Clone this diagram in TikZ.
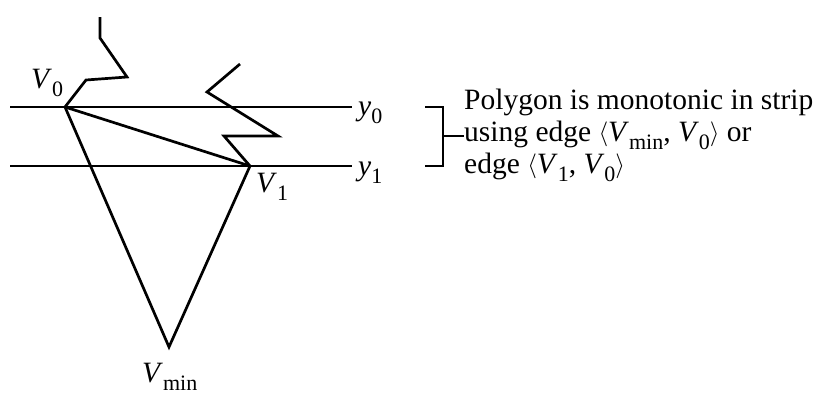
\documentclass[tikz,border=0pt]{standalone}
\usepackage{fontspec}
\setmainfont{Liberation Serif}
\newcommand{\lbl}[2]{\textit{#1}\raisebox{-0.3em}{\fontsize{22}{22}\selectfont #2}}
\newcommand{\langl}{\raisebox{0.03em}{$\langle$}}
\newcommand{\rangl}{\raisebox{0.03em}{$\rangle$}}
\begin{document}
\begin{tikzpicture}[x=1pt,y=-1pt,
  poly/.style={line width=2.7pt,line join=miter},
  strip/.style={line width=1.6pt},
  brk/.style={line width=1.5pt},
  lab/.style={font=\fontsize{29.5}{31}\selectfont,inner sep=0pt,anchor=base west}]
\useasboundingbox (0,0) rectangle (828,402);
% vertices
\coordinate (V0) at (65,107);
\coordinate (V1) at (250,166);
\coordinate (Vmin) at (169,347);
\coordinate (a1) at (100,17);
\coordinate (a2) at (100,38);
\coordinate (a3) at (127,77);
\coordinate (a4) at (86,80);
\coordinate (b1) at (240,64);
\coordinate (b2) at (207,92);
\coordinate (b3) at (278,136);
\coordinate (b4) at (224,136);
% strip lines
\coordinate (s0l) at (10,107);
\coordinate (s0r) at (352,107);
\coordinate (s1l) at (10,166);
\coordinate (s1r) at (352,166);
\draw[strip] (s0l) -- (s0r);
\draw[strip] (s1l) -- (s1r);
% polygon
\draw[poly] (a1) -- (a2) -- (a3) -- (a4) -- (V0);
\draw[poly] (b1) -- (b2) -- (b3) -- (b4) -- (V1);
\draw[poly] (V0) -- (V1);
\draw[poly] (V0) -- (Vmin) -- (V1);
% labels
\node[lab] (lV0) at (31,88) {\lbl{V}{0}};
\node[lab] (ly0) at (358,115) {\lbl{y}{0}};
\node[lab] (ly1) at (358,175) {\lbl{y}{1}};
\node[lab] (lV1) at (256,192) {\lbl{V}{1}};
\node[lab] (lVmin) at (142,382) {\lbl{V}{min}};
% bracket
\coordinate (k0) at (425,107);
\coordinate (k1) at (443,107);
\coordinate (k2) at (443,166);
\coordinate (k3) at (425,166);
\coordinate (km) at (443,136);
\draw[brk] (k0) -- (k1) -- (k2) -- (k3);
\node[lab] (t1) at (464,109) {Polygon is monotonic in strip};
\node[lab] (t2) at (464,141) {using edge \langl\lbl{V}{min}, \lbl{V}{0}\rangl{} or};
\node[lab] (t3) at (464,173) {edge \langl\lbl{V}{1}, \lbl{V}{0}\rangl};
\coordinate (kme) at (464,136);
\draw[brk] (km) -- (kme);
\end{tikzpicture}
\end{document}
